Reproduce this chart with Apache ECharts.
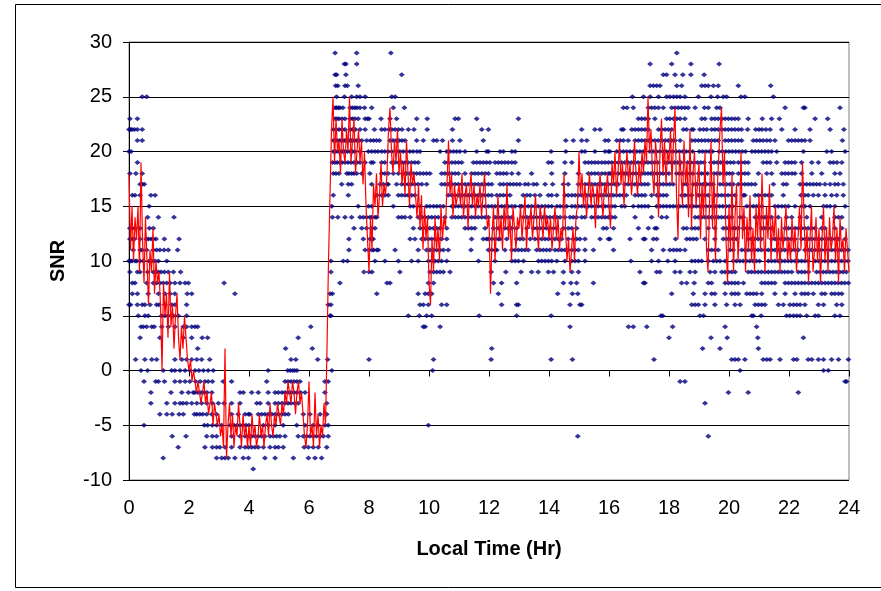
<!DOCTYPE html>
<html>
<head>
<meta charset="utf-8">
<script src="https://cdn.jsdelivr.net/npm/echarts@6/dist/echarts.min.js"></script>
<style>
html,body{margin:0;padding:0;background:#fff;}
#chart{width:881px;height:591px;}
</style>
</head>
<body>
<div id="chart"></div>
<script>
// ---- Axis settings / tick labels ----
const xTicks = [0,2,4,6,8,10,12,14,16,18,20,22,24];
const yTicks = [-10,-5,0,5,10,15,20,25,30];

// ---- Scatter: observation times (hr) at each integer SNR level ----
const lvl29 = [6.87, 7.59, 8.73, 18.26];
const lvl28 = [7.18, 7.23, 7.59, 17.37, 18.09, 18.73, 19.67];
const lvl27 = [6.87, 6.92, 7.23, 9.09, 17.81, 17.92, 18.2, 18.46, 18.73, 19.17];
const lvl26 = [6.89, 6.96, 7.2, 7.28, 7.64, 17.37, 17.48, 17.59, 17.7, 18.26, 18.42, 19.09, 19.2, 19.31, 19.48, 19.64, 20.31, 21.39];
const lvl25 = [0.44, 0.59, 6.92, 7.18, 7.42, 7.59, 7.7, 7.87, 8.76, 8.87, 16.78, 17.15, 17.37, 17.65, 17.92, 18.03, 18.15, 18.26, 18.37, 18.53, 18.98, 19.4, 19.62, 19.81, 19.92, 20.4, 20.53, 21.48];
const lvl24 = [6.87, 6.92, 6.98, 7.03, 7.13, 7.37, 7.45, 7.53, 7.6, 7.7, 7.85, 8.09, 8.81, 9.18, 16.48, 16.6, 16.81, 17.31, 17.42, 17.53, 17.65, 17.81, 18.09, 18.2, 18.31, 18.42, 18.53, 18.64, 18.87, 19.18, 19.31, 19.59, 19.7, 21.87, 22.48, 22.53, 23.7];
const lvl23 = [0.03, 0.28, 6.87, 6.93, 7.0, 7.1, 7.2, 7.37, 7.45, 7.53, 7.64, 7.87, 7.95, 8.0, 8.4, 8.7, 8.92, 9.59, 9.94, 10.87, 10.98, 11.59, 12.98, 16.98, 17.09, 17.2, 17.31, 17.53, 17.92, 18.03, 18.15, 18.26, 18.37, 18.53, 19.09, 19.2, 19.42, 19.53, 19.64, 19.76, 19.87, 19.98, 20.09, 20.2, 20.31, 20.64, 21.11, 21.42, 21.68, 22.87, 23.29];
const lvl22 = [0.0, 0.05, 0.1, 0.18, 0.28, 0.44, 6.81, 6.9, 7.0, 7.1, 7.2, 7.37, 7.45, 7.55, 7.7, 7.87, 8.18, 8.42, 8.53, 8.67, 8.76, 8.87, 8.98, 9.1, 9.31, 9.5, 9.94, 10.78, 11.76, 11.98, 15.09, 15.53, 15.7, 16.42, 16.48, 16.76, 16.87, 16.98, 17.09, 17.2, 17.31, 17.65, 17.76, 17.87, 17.98, 18.09, 18.48, 18.59, 18.76, 18.81, 19.03, 19.15, 19.26, 19.42, 19.53, 19.64, 19.76, 19.87, 19.98, 20.09, 20.2, 20.31, 20.42, 20.62, 20.89, 21.0, 21.1, 21.23, 21.37, 21.76, 22.2, 22.7, 23.37, 23.83];
const lvl21 = [0.28, 0.44, 6.81, 6.87, 6.95, 7.03, 7.1, 7.18, 7.26, 7.34, 7.42, 7.5, 7.58, 7.67, 7.76, 7.92, 8.05, 8.15, 8.25, 8.35, 8.7, 8.8, 8.9, 9.0, 9.1, 9.2, 9.59, 9.81, 10.15, 10.26, 10.45, 10.78, 11.03, 11.81, 12.98, 14.56, 14.81, 15.09, 15.26, 15.87, 15.98, 16.26, 16.37, 16.48, 16.64, 16.87, 16.98, 17.09, 17.2, 17.31, 17.42, 17.53, 17.64, 17.76, 17.87, 17.98, 18.09, 18.2, 18.37, 18.76, 18.87, 18.98, 19.09, 19.2, 19.31, 19.42, 19.53, 19.64, 19.87, 19.98, 20.09, 20.2, 20.31, 20.42, 20.81, 20.92, 21.03, 21.14, 21.26, 21.37, 21.53, 21.98, 22.09, 22.2, 22.31, 22.42, 22.53, 22.7, 23.78];
const lvl20 = [0.0, 0.07, 6.81, 6.89, 6.97, 7.05, 7.13, 7.2, 7.28, 7.37, 7.45, 7.53, 7.7, 7.98, 8.09, 8.2, 8.3, 8.42, 8.53, 8.64, 8.76, 8.92, 9.03, 9.14, 9.25, 9.36, 9.47, 9.6, 9.7, 10.37, 10.59, 10.7, 10.81, 10.92, 11.03, 11.2, 11.59, 11.92, 11.98, 12.37, 12.48, 12.76, 12.87, 14.07, 14.56, 15.09, 15.2, 15.53, 15.87, 15.98, 16.03, 16.26, 16.37, 16.48, 16.59, 16.7, 16.81, 16.92, 17.03, 17.14, 17.36, 17.47, 17.58, 17.69, 17.8, 17.91, 18.02, 18.13, 18.24, 18.35, 18.46, 18.57, 18.68, 18.79, 19.01, 19.12, 19.23, 19.34, 19.45, 19.67, 19.78, 19.89, 20.0, 20.11, 20.22, 20.33, 20.44, 20.55, 20.76, 20.87, 20.98, 21.09, 21.2, 21.31, 21.42, 21.59, 22.48, 23.26, 23.42, 23.87];
const lvl19 = [0.28, 6.78, 6.86, 6.94, 7.03, 7.1, 7.2, 7.3, 7.4, 7.5, 7.6, 7.7, 7.87, 8.07, 8.14, 8.42, 8.53, 8.76, 8.87, 8.98, 9.1, 9.2, 9.3, 9.42, 9.53, 9.64, 10.53, 10.64, 10.76, 10.87, 10.98, 11.09, 11.48, 11.59, 11.7, 11.81, 11.92, 12.03, 12.2, 12.31, 12.42, 12.53, 12.64, 12.76, 12.87, 13.98, 14.09, 14.53, 14.76, 15.2, 15.31, 15.42, 15.53, 15.64, 15.76, 15.87, 15.98, 16.09, 16.2, 16.31, 16.42, 16.53, 16.64, 16.75, 16.86, 16.97, 17.08, 17.19, 17.3, 17.41, 17.52, 17.63, 17.85, 17.96, 18.07, 18.18, 18.29, 18.4, 18.62, 18.73, 18.84, 18.95, 19.06, 19.17, 19.39, 19.5, 19.61, 19.72, 19.83, 19.94, 20.05, 20.16, 20.31, 20.42, 20.53, 20.64, 21.14, 21.26, 21.37, 21.59, 21.87, 21.98, 22.09, 22.2, 22.42, 22.76, 22.98, 23.37, 23.48, 23.6, 23.76];
const lvl18 = [0.03, 0.23, 0.44, 6.81, 6.9, 7.0, 7.26, 7.33, 7.42, 7.5, 7.59, 7.76, 8.03, 8.42, 8.53, 8.64, 8.81, 8.98, 9.14, 9.25, 9.36, 9.48, 9.59, 9.7, 9.81, 9.92, 10.03, 10.42, 10.53, 10.64, 10.76, 10.87, 10.98, 11.2, 11.42, 11.53, 11.64, 11.76, 11.87, 11.98, 12.26, 12.37, 12.48, 12.59, 12.76, 12.98, 13.42, 14.09, 14.53, 14.98, 15.31, 15.42, 15.53, 15.64, 15.76, 15.87, 15.98, 16.04, 16.15, 16.3, 16.4, 16.5, 16.6, 16.7, 16.8, 16.9, 17.0, 17.1, 17.2, 17.3, 17.4, 17.5, 17.6, 17.7, 17.8, 17.9, 18.0, 18.25, 18.35, 18.45, 18.6, 18.7, 18.8, 18.98, 19.08, 19.18, 19.28, 19.5, 19.6, 19.7, 19.82, 19.92, 20.02, 20.12, 20.31, 20.42, 20.53, 20.64, 20.98, 21.26, 21.42, 21.76, 21.87, 21.98, 22.1, 22.2, 22.42, 22.76, 23.09, 23.53, 23.7];
const lvl17 = [0.37, 0.44, 0.51, 7.09, 7.31, 7.42, 8.09, 8.37, 8.48, 8.6, 8.64, 8.92, 9.09, 9.2, 9.31, 9.42, 9.53, 9.64, 9.76, 9.92, 10.42, 10.53, 10.64, 10.76, 10.87, 10.98, 11.09, 11.2, 11.31, 11.42, 11.53, 11.64, 11.76, 11.87, 11.98, 12.09, 12.37, 12.48, 12.6, 12.7, 12.81, 12.92, 13.03, 13.2, 13.31, 13.48, 13.59, 13.87, 14.12, 14.48, 14.64, 14.98, 15.2, 15.31, 15.42, 15.53, 15.64, 15.76, 15.87, 15.98, 16.09, 16.2, 16.31, 16.53, 16.64, 16.75, 16.86, 16.97, 17.08, 17.19, 17.3, 17.59, 17.7, 17.81, 17.92, 18.03, 18.14, 18.48, 18.59, 18.81, 18.92, 19.03, 19.14, 19.25, 19.36, 19.47, 19.7, 19.81, 19.92, 20.03, 20.14, 20.31, 20.42, 20.53, 20.64, 20.75, 20.87, 21.48, 21.81, 21.92, 22.37, 22.48, 22.59, 22.7, 22.81, 22.92, 23.03, 23.2, 23.37, 23.53, 23.64, 23.81];
const lvl16 = [0.11, 0.2, 0.37, 0.73, 0.87, 6.81, 7.31, 8.26, 8.42, 8.53, 8.64, 8.98, 9.09, 9.2, 9.3, 9.42, 9.53, 10.64, 10.76, 10.87, 10.98, 11.09, 11.2, 11.31, 11.42, 11.53, 11.64, 11.76, 11.87, 11.98, 12.09, 12.26, 12.37, 12.48, 12.59, 12.7, 13.14, 13.26, 13.37, 13.53, 13.7, 13.98, 14.09, 14.26, 14.53, 14.64, 14.76, 14.87, 14.98, 15.09, 15.26, 15.37, 15.48, 15.59, 15.7, 15.81, 15.92, 16.03, 16.14, 16.25, 16.36, 16.47, 16.58, 16.87, 16.98, 17.09, 17.2, 17.42, 17.59, 17.7, 17.81, 17.92, 18.42, 18.53, 18.64, 18.76, 18.98, 19.09, 19.2, 19.31, 19.53, 19.64, 19.75, 19.86, 19.97, 20.09, 20.2, 20.48, 20.53, 20.87, 20.98, 21.09, 21.2, 21.31, 21.42, 21.81, 22.4, 22.53, 22.64, 22.81, 22.98, 23.2, 23.42, 23.59, 23.81];
const lvl15 = [0.67, 6.76, 7.64, 7.98, 8.09, 8.81, 9.37, 9.48, 9.7, 9.92, 10.03, 10.15, 10.26, 10.37, 10.48, 10.76, 10.87, 10.98, 11.09, 11.2, 11.31, 11.42, 11.53, 11.64, 11.76, 11.87, 11.98, 12.09, 12.2, 12.31, 12.42, 12.53, 12.64, 12.76, 12.87, 13.03, 13.09, 13.2, 13.31, 13.42, 13.53, 13.64, 13.76, 13.87, 13.98, 14.09, 14.26, 14.37, 14.48, 14.59, 14.76, 14.87, 14.98, 15.09, 15.2, 15.31, 15.42, 15.53, 15.64, 15.76, 15.87, 15.98, 16.09, 16.2, 16.42, 16.53, 16.81, 16.98, 17.09, 17.2, 17.31, 17.59, 17.7, 17.81, 17.92, 18.03, 18.14, 18.25, 18.36, 18.47, 18.58, 18.69, 18.8, 18.91, 19.02, 19.13, 19.24, 19.35, 19.46, 19.57, 19.68, 19.79, 19.9, 20.01, 20.12, 20.59, 20.7, 20.81, 20.92, 21.09, 21.53, 21.64, 21.76, 21.87, 21.98, 22.2, 22.42, 22.53, 22.7, 23.15, 23.26, 23.37, 23.53, 23.87];
const lvl14 = [0.62, 0.98, 1.5, 6.78, 6.96, 7.2, 7.42, 7.7, 7.81, 7.92, 8.03, 8.09, 8.2, 8.26, 8.98, 9.09, 9.2, 9.37, 9.64, 9.76, 9.87, 9.98, 10.09, 10.2, 10.31, 10.53, 10.76, 10.87, 10.98, 11.09, 11.2, 11.31, 11.42, 11.53, 11.64, 11.76, 11.87, 11.98, 12.2, 12.31, 12.42, 12.53, 12.64, 12.76, 13.14, 13.26, 13.37, 13.48, 13.59, 13.7, 13.81, 13.92, 14.03, 14.15, 14.26, 14.37, 14.53, 14.7, 14.81, 14.92, 15.09, 15.2, 15.42, 15.53, 15.64, 15.76, 15.87, 15.98, 16.09, 16.2, 16.87, 17.42, 17.76, 17.92, 18.87, 18.98, 19.09, 19.2, 19.31, 19.42, 19.53, 19.64, 19.75, 19.86, 19.97, 20.09, 20.37, 20.48, 20.87, 20.98, 21.09, 21.2, 21.31, 21.42, 21.64, 21.92, 22.09, 22.37, 22.59, 23.09, 23.53, 23.65, 23.76];
const lvl13 = [0.03, 0.11, 0.2, 0.37, 0.68, 0.81, 7.5, 7.76, 7.92, 8.09, 8.2, 9.48, 9.7, 9.81, 9.92, 10.03, 10.15, 10.26, 10.37, 10.59, 11.2, 11.31, 11.42, 11.53, 11.87, 12.15, 12.31, 12.53, 12.64, 12.76, 12.92, 13.26, 13.48, 13.59, 13.7, 13.81, 13.92, 14.03, 14.15, 14.26, 14.48, 14.64, 14.76, 14.92, 15.81, 15.92, 16.15, 16.98, 17.31, 17.53, 17.59, 18.48, 18.59, 18.76, 18.87, 18.98, 19.31, 19.53, 19.81, 19.92, 20.03, 20.14, 20.2, 20.31, 20.48, 20.59, 20.7, 21.09, 21.2, 21.31, 21.42, 21.87, 21.98, 22.09, 22.2, 22.31, 22.42, 22.53, 22.64, 22.76, 22.87, 23.09, 23.2, 23.53, 23.76];
const lvl12 = [0.03, 0.11, 0.18, 0.37, 0.57, 0.64, 0.73, 0.81, 0.9, 1.18, 1.67, 7.33, 7.81, 8.03, 8.09, 8.14, 9.37, 9.53, 9.76, 9.87, 9.98, 10.09, 10.2, 10.31, 10.42, 10.59, 11.42, 11.81, 11.92, 11.98, 12.09, 12.2, 12.31, 12.37, 12.59, 12.92, 13.03, 13.14, 13.37, 13.53, 13.64, 13.76, 13.87, 13.98, 14.09, 14.2, 14.31, 14.42, 14.64, 14.81, 14.92, 15.03, 15.2, 15.7, 15.98, 16.03, 16.7, 17.15, 17.2, 17.48, 17.59, 18.22, 18.59, 18.7, 18.81, 18.92, 19.2, 19.53, 19.81, 19.92, 20.03, 20.14, 20.25, 20.64, 20.75, 20.86, 20.97, 21.08, 21.42, 21.53, 21.64, 21.75, 21.86, 21.97, 22.08, 22.2, 22.42, 22.53, 22.64, 22.75, 22.86, 22.97, 23.08, 23.2, 23.31, 23.42, 23.53, 23.64, 23.87];
const lvl11 = [0.14, 0.37, 0.44, 0.59, 0.81, 0.92, 1.03, 1.17, 1.31, 1.62, 7.33, 7.87, 8.0, 8.1, 8.15, 8.26, 8.31, 8.87, 9.64, 9.92, 10.03, 10.15, 10.26, 10.37, 10.48, 10.64, 11.4, 11.98, 12.09, 12.2, 12.26, 12.53, 12.76, 12.87, 12.98, 13.09, 13.2, 13.31, 13.59, 13.7, 13.81, 13.92, 14.03, 14.2, 14.31, 14.42, 14.53, 14.64, 14.76, 14.87, 14.98, 15.2, 15.48, 16.15, 17.42, 17.81, 18.03, 18.15, 18.26, 18.37, 18.53, 19.31, 19.42, 19.53, 19.64, 20.03, 20.14, 20.42, 20.53, 20.64, 20.75, 20.86, 20.97, 21.08, 21.2, 21.31, 21.42, 21.53, 21.64, 21.75, 21.86, 21.97, 22.08, 22.2, 22.31, 22.53, 22.64, 22.75, 22.86, 22.97, 23.08, 23.2, 23.31, 23.42, 23.53, 23.64, 23.75, 23.86, 23.97];
const lvl10 = [0.0, 0.05, 0.1, 0.2, 0.26, 0.37, 0.48, 0.67, 0.76, 0.87, 0.98, 1.26, 6.73, 7.14, 7.28, 8.2, 8.53, 8.98, 9.42, 9.64, 9.98, 10.09, 10.2, 10.31, 10.42, 10.59, 11.65, 12.2, 12.76, 12.87, 12.98, 13.15, 13.65, 13.76, 13.87, 13.98, 14.09, 14.26, 14.53, 14.76, 14.87, 14.98, 15.2, 16.73, 17.42, 17.65, 17.96, 18.2, 18.76, 18.87, 18.98, 19.09, 19.31, 19.48, 19.59, 19.7, 19.87, 20.14, 20.25, 20.36, 20.47, 20.58, 20.69, 20.8, 20.91, 21.02, 21.31, 21.42, 21.53, 21.64, 21.75, 21.86, 21.97, 22.08, 22.2, 22.31, 22.42, 22.53, 22.64, 22.87, 22.98, 23.09, 23.2, 23.31, 23.42, 23.53, 23.64, 23.75, 23.86, 23.97];
const lvl9 = [0.03, 0.28, 0.37, 0.62, 0.81, 0.89, 0.98, 1.07, 1.18, 1.31, 1.48, 1.72, 6.73, 7.83, 8.0, 8.1, 9.03, 10.03, 10.15, 10.26, 10.37, 10.48, 10.7, 12.07, 12.56, 13.07, 13.42, 13.64, 13.98, 14.15, 14.48, 14.76, 14.98, 17.03, 17.59, 17.7, 18.2, 18.37, 18.7, 18.87, 19.37, 19.53, 19.76, 19.87, 19.98, 20.09, 20.2, 20.64, 20.75, 20.86, 20.97, 21.08, 21.2, 21.31, 21.42, 21.53, 21.64, 21.75, 21.86, 21.97, 22.09, 22.31, 22.42, 22.53, 22.65, 22.92, 23.03, 23.14, 23.25, 23.36, 23.47, 23.58, 23.69, 23.8, 23.91];
const lvl8 = [0.11, 0.2, 0.59, 0.81, 0.92, 1.03, 1.14, 1.26, 1.37, 1.53, 1.7, 1.87, 1.98, 3.17, 7.03, 8.6, 8.7, 9.98, 10.15, 12.15, 12.42, 12.92, 14.48, 14.73, 14.92, 15.48, 17.15, 17.2, 18.42, 18.59, 18.84, 19.31, 19.42, 19.87, 19.98, 20.09, 20.2, 20.31, 20.48, 21.09, 21.2, 21.31, 21.42, 21.53, 21.87, 21.98, 22.09, 22.2, 22.31, 22.42, 22.53, 22.65, 22.76, 22.87, 22.98, 23.09, 23.2, 23.31, 23.42, 23.53, 23.64, 23.75, 23.86, 23.98];
const lvl7 = [0.11, 0.28, 0.64, 0.98, 1.2, 1.37, 1.53, 1.94, 2.09, 3.53, 6.7, 6.78, 8.26, 9.64, 9.87, 9.98, 10.09, 12.31, 14.29, 14.78, 14.96, 18.09, 18.81, 19.2, 19.42, 19.53, 19.87, 20.09, 20.2, 20.31, 20.59, 20.7, 20.81, 20.92, 21.09, 21.53, 21.87, 22.2, 22.42, 22.53, 22.64, 22.81, 23.09, 23.2, 23.42, 23.53, 23.65, 23.76];
const lvl6 = [0.0, 0.05, 0.28, 0.44, 0.53, 0.7, 0.92, 1.0, 1.2, 1.42, 1.53, 1.92, 6.64, 6.73, 9.7, 9.81, 9.98, 10.42, 10.59, 12.42, 12.92, 12.98, 14.7, 15.03, 15.09, 18.76, 18.87, 18.98, 19.2, 19.53, 19.92, 20.2, 20.37, 20.87, 20.98, 21.09, 21.2, 21.65, 21.81, 22.03, 22.15, 22.26, 22.37, 22.53, 22.98, 23.15, 23.59, 23.76];
const lvl5 = [0.31, 0.53, 0.64, 1.09, 1.2, 1.31, 1.48, 1.64, 1.92, 6.7, 6.73, 9.31, 9.68, 9.92, 10.09, 11.67, 12.92, 14.07, 17.73, 17.79, 19.03, 19.15, 20.76, 20.81, 21.07, 21.92, 22.03, 22.15, 22.26, 22.37, 22.59, 22.87, 22.98, 23.53, 23.7];
const lvl4 = [0.4, 0.48, 0.59, 0.76, 0.84, 1.09, 1.31, 1.53, 1.81, 1.92, 2.09, 2.2, 2.29, 6.06, 9.81, 9.87, 10.37, 14.7, 16.65, 16.81, 17.26, 18.12, 19.87, 20.92];
const lvl3 = [0.37, 1.03, 1.81, 2.09, 2.44, 2.62, 5.64, 18.0, 19.4, 19.94, 20.96, 22.48];
const lvl2 = [2.29, 5.22, 6.11, 12.09, 19.12, 19.7, 20.98];
const lvl1 = [0.22, 0.53, 0.76, 0.92, 1.53, 1.76, 1.92, 2.09, 2.26, 2.42, 2.69, 5.4, 5.56, 6.29, 6.62, 8.0, 10.15, 12.07, 14.07, 14.78, 17.5, 20.09, 20.2, 20.31, 20.53, 21.14, 21.26, 21.37, 21.7, 22.15, 22.26, 22.64, 22.76, 22.98, 23.15, 23.42, 23.65, 23.98];
const lvl0 = [0.4, 0.62, 1.14, 1.42, 1.53, 1.7, 1.87, 2.03, 2.2, 2.33, 2.48, 2.64, 2.81, 4.64, 5.29, 5.37, 5.45, 5.52, 5.6, 6.76, 10.12, 20.37, 23.15, 23.31];
const lvlM1 = [0.5, 0.89, 0.98, 1.18, 1.53, 1.7, 1.87, 2.03, 2.22, 2.37, 2.53, 2.64, 2.78, 3.14, 3.42, 4.59, 5.2, 5.3, 5.4, 5.5, 5.6, 5.7, 6.53, 6.64, 18.37, 18.53, 23.87, 23.92];
const lvlM2 = [0.73, 1.4, 1.76, 1.98, 2.14, 2.2, 2.3, 2.4, 2.5, 2.6, 2.76, 3.7, 3.81, 4.09, 4.31, 4.64, 4.87, 4.98, 5.1, 5.2, 5.3, 5.4, 5.5, 5.6, 5.72, 5.87, 6.53, 19.98, 20.64, 22.31];
const lvlM3 = [0.73, 1.26, 1.53, 1.7, 1.8, 1.92, 2.09, 2.26, 2.42, 2.59, 2.78, 2.98, 3.17, 3.42, 3.7, 4.26, 4.37, 4.64, 4.87, 4.98, 5.1, 5.2, 5.3, 5.4, 5.52, 5.64, 6.59, 19.2];
const lvlM4 = [1.03, 1.26, 1.44, 1.67, 1.81, 2.18, 2.26, 2.36, 2.46, 2.59, 2.76, 2.92, 3.42, 3.64, 3.87, 3.98, 4.03, 4.31, 4.42, 4.53, 4.64, 4.76, 4.87, 4.98, 5.1, 5.2, 5.31, 5.81, 6.03, 6.37, 6.59];
const lvlM5 = [0.5, 2.51, 2.62, 2.78, 2.92, 3.09, 3.37, 3.5, 3.6, 3.7, 3.8, 3.9, 4.0, 4.48, 4.64, 4.87, 5.14, 5.59, 5.87, 6.14, 6.31, 6.53, 6.64, 9.98];
const lvlM6 = [1.44, 1.9, 2.59, 2.78, 2.92, 3.42, 3.7, 3.87, 3.98, 4.09, 4.2, 4.31, 4.42, 4.53, 4.7, 4.81, 4.92, 5.03, 5.2, 5.64, 5.81, 5.92, 6.03, 6.14, 6.25, 6.37, 6.48, 6.64, 14.96, 19.31];
const lvlM7 = [1.64, 2.53, 2.78, 2.92, 3.03, 3.2, 3.42, 3.7, 3.87, 3.98, 4.09, 4.2, 4.31, 4.48, 4.7, 4.87, 4.98, 5.14, 5.84, 5.98, 6.14, 6.31, 6.59];
const lvlM8 = [1.14, 2.92, 3.09, 3.2, 3.31, 3.53, 3.81, 3.98, 4.53, 4.87, 5.48, 5.98, 6.2, 6.42];
const lvlM9 = [4.14];

const dotLevels = [
  [29, lvl29], [28, lvl28], [27, lvl27], [26, lvl26], [25, lvl25], [24, lvl24],
  [23, lvl23], [22, lvl22], [21, lvl21], [20, lvl20], [19, lvl19], [18, lvl18],
  [17, lvl17], [16, lvl16], [15, lvl15], [14, lvl14], [13, lvl13], [12, lvl12],
  [11, lvl11], [10, lvl10], [9, lvl9], [8, lvl8], [7, lvl7], [6, lvl6],
  [5, lvl5], [4, lvl4], [3, lvl3], [2, lvl2], [1, lvl1], [0, lvl0],
  [-1, lvlM1], [-2, lvlM2], [-3, lvlM3], [-4, lvlM4], [-5, lvlM5],
  [-6, lvlM6], [-7, lvlM7], [-8, lvlM8], [-9, lvlM9]
];

// ---- Red line: SNR sampled every 0.05 hr, one array per hour ----
const lineStep = 0.05;
const lineH00 = [18, 11, 15, 10, 14, 12, 15, 9, 19, 12, 8, 14, 10, 6, 11, 9, 13, 7, 10, 8];
const lineH01 = [9, 6, 0, 8, 5, 7, 3, 9, 4, 6, 2, 5, 7, 3, 1, 4, 2, 5, 3, 1];
const lineH02 = [0, 1, -1, 0, -1, -2, -1, -2, -3, -2, -1, -3, -2, -4, -3, -2, -5, -3, -4, -5];
const lineH03 = [-4, -6, -5, -7, 2, -8, -5, -3, -6, -4, -7, -5, -6, -3, -5, -7, -4, -6, -5, -7];
const lineH04 = [-5, -7, -4, -6, -5, -7, -6, -4, -6, -5, -7, -5, -4, -6, -3, -5, -6, -4, -5, -3];
const lineH05 = [-4, -5, -3, -4, -2, -3, -1, -2, -3, -1, -2, -4, -2, -1, -3, -2, -4, -6, -7, -5];
const lineH06 = [-1, -6, -5, -7, -2, -6, -4, -7, -5, -6, -3, -5, 2, 10, 16, 22, 25, 19, 23, 20];
const lineH07 = [21, 18, 23, 20, 19, 22, 20, 25, 19, 21, 23, 18, 20, 22, 19, 21, 17, 20, 15, 12];
const lineH08 = [9, 14, 11, 17, 15, 18, 14, 16, 19, 15, 17, 16, 18, 22, 24, 20, 18, 21, 19, 22];
const lineH09 = [18, 20, 17, 19, 16, 21, 18, 15, 19, 17, 18, 16, 14, 17, 13, 16, 11, 15, 12, 14];
const lineH10 = [8, 6, 12, 9, 14, 11, 13, 10, 15, 12, 14, 13, 17, 21, 16, 18, 14, 17, 15, 16];
const lineH11 = [17, 15, 18, 14, 16, 17, 13, 16, 18, 15, 17, 14, 16, 15, 17, 14, 16, 18, 15, 13];
const lineH12 = [14, 7, 12, 15, 10, 13, 16, 12, 14, 11, 15, 13, 17, 12, 14, 10, 15, 13, 11, 14];
const lineH13 = [13, 15, 12, 14, 16, 11, 14, 13, 15, 12, 14, 16, 13, 11, 15, 14, 12, 15, 13, 14];
const lineH14 = [12, 14, 11, 13, 15, 12, 14, 11, 13, 12, 18, 13, 10, 12, 9, 11, 13, 10, 14, 15];
const lineH15 = [20, 16, 18, 15, 17, 14, 16, 18, 15, 17, 16, 13, 17, 15, 18, 16, 14, 17, 16, 18];
const lineH16 = [15, 13, 19, 17, 20, 16, 18, 21, 17, 19, 15, 18, 20, 17, 19, 16, 18, 21, 18, 16];
const lineH17 = [19, 17, 20, 18, 21, 19, 25, 20, 22, 18, 16, 21, 19, 14, 20, 23, 18, 21, 17, 20];
const lineH18 = [19, 22, 17, 21, 24, 16, 12, 20, 18, 15, 21, 17, 19, 14, 22, 13, 18, 20, 15, 17];
const lineH19 = [19, 12, 17, 14, 20, 11, 9, 15, 21, 13, 18, 10, 16, 19, 22, 24, 17, 20, 12, 8];
const lineH20 = [15, 11, 18, 9, 14, 17, 10, 13, 20, 12, 15, 9, 14, 11, 16, 10, 13, 9, 15, 12];
const lineH21 = [16, 11, 18, 13, 9, 15, 12, 17, 10, 14, 12, 15, 10, 13, 9, 14, 11, 13, 15, 10];
const lineH22 = [12, 10, 14, 11, 13, 9, 12, 15, 11, 19, 14, 10, 13, 8, 12, 15, 9, 11, 14, 10];
const lineH23 = [13, 8, 12, 15, 10, 13, 9, 14, 11, 12, 15, 10, 13, 8, 14, 11, 12, 9, 13, 11];
const lineH24 = [9];

const lineValues = [].concat(lineH00, lineH01, lineH02, lineH03, lineH04, lineH05,
  lineH06, lineH07, lineH08, lineH09, lineH10, lineH11, lineH12, lineH13, lineH14,
  lineH15, lineH16, lineH17, lineH18, lineH19, lineH20, lineH21, lineH22, lineH23, lineH24);

// ---- Build series data ----
const scatterData = [];
dotLevels.forEach(function (row) {
  row[1].forEach(function (t) { scatterData.push([t, row[0]]); });
});
const lineData = lineValues.map(function (v, i) {
  return [Math.round(i * lineStep * 100) / 100, v];
});

const chart = echarts.init(document.getElementById('chart'), null, {renderer: 'canvas'});
const font = 'Arial, "Liberation Sans", Helvetica, sans-serif';
chart.setOption({
  animation: false,
  backgroundColor: '#ffffff',
  graphic: [{
    type: 'rect',
    shape: {x: 15.5, y: 4.5, width: 900, height: 583},
    style: {fill: null, stroke: '#000000', lineWidth: 1},
    silent: true, z: 100
  }],
  grid: {
    left: 129, right: 32, top: 42, bottom: 111,
    show: true, borderColor: '#808080', borderWidth: 1, backgroundColor: 'transparent'
  },
  xAxis: {
    type: 'value', min: 0, max: 24, interval: 2,
    name: 'Local Time (Hr)', nameLocation: 'middle', nameGap: 59,
    nameTextStyle: {fontFamily: font, fontSize: 20, fontWeight: 'bold', color: '#000'},
    axisLine: {show: true, lineStyle: {color: '#000', width: 1}},
    axisTick: {show: true, length: 6, inside: false, lineStyle: {color: '#000'}},
    axisLabel: {fontFamily: font, fontSize: 20, color: '#000', margin: 18,
      formatter: function (v) { return xTicks.indexOf(v) >= 0 ? String(v) : ''; }},
    splitLine: {show: false}
  },
  yAxis: {
    type: 'value', min: -10, max: 30, interval: 5,
    name: 'SNR', nameLocation: 'middle', nameGap: 61, nameRotate: 90,
    nameTextStyle: {fontFamily: font, fontSize: 20, fontWeight: 'bold', color: '#000'},
    axisLine: {show: true, lineStyle: {color: '#000', width: 1}},
    axisTick: {show: true, length: 6, inside: false, lineStyle: {color: '#000'}},
    axisLabel: {fontFamily: font, fontSize: 20, color: '#000', margin: 17,
      formatter: function (v) { return yTicks.indexOf(v) >= 0 ? String(v) : ''; }},
    splitLine: {show: true, lineStyle: {color: '#000', width: 1}}
  },
  series: [
    {
      name: 'SNR samples', type: 'scatter', data: scatterData,
      symbol: 'diamond', symbolSize: [6, 5],
      itemStyle: {color: '#000080'}, z: 2, silent: true
    },
    {
      name: 'SNR running', type: 'line', data: lineData,
      showSymbol: false, symbol: 'none',
      lineStyle: {color: '#ff0000', width: 1.2}, z: 3, silent: true
    }
  ]
});
</script>
</body>
</html>
